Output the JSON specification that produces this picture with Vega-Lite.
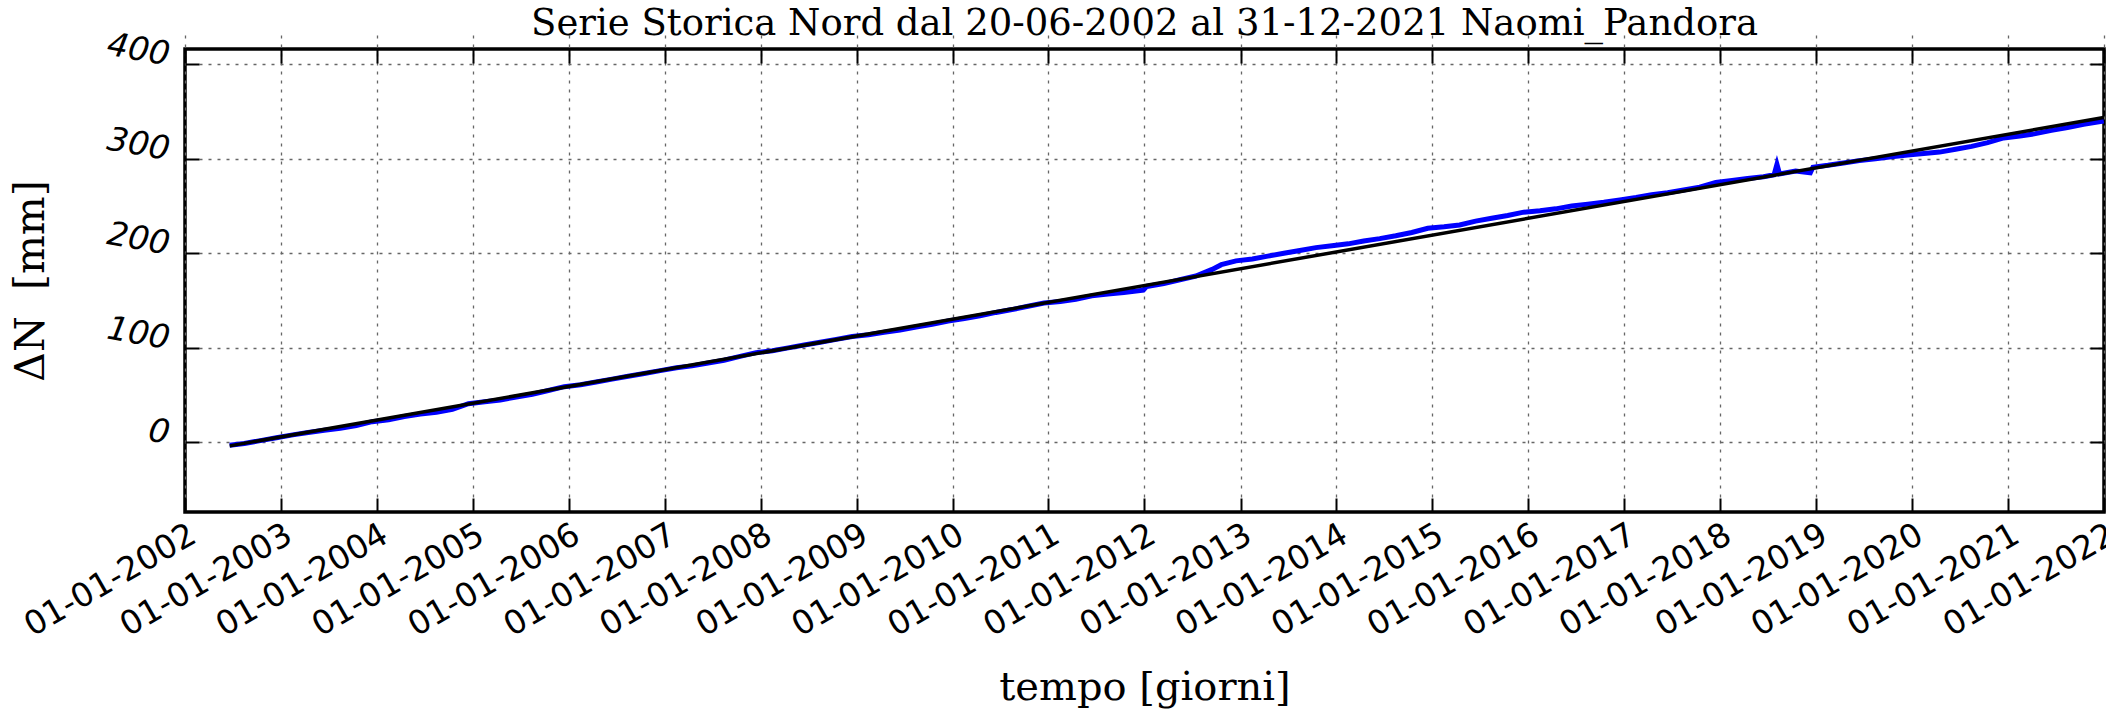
{
  "$schema": "https://vega.github.io/schema/vega-lite/v6.json",
  "autosize": {"type": "none"},
  "width": 1919,
  "height": 463,
  "padding": {"left": 185, "top": 49, "right": 2, "bottom": 199},
  "background": "white",
  "title": {
    "text": "Serie Storica Nord dal 20-06-2002 al 31-12-2021 Naomi_Pandora",
    "font": "DejaVu Serif",
    "fontSize": 37,
    "fontWeight": "normal",
    "color": "black",
    "frame": "group",
    "anchor": "middle",
    "baseline": "bottom",
    "offset": 10,
    "dy": 62
  },
  "config": {
    "view": {"stroke": "black", "strokeWidth": 3.5},
    "axis": {
      "domain": false,
      "gridColor": "#666666",
      "gridDash": [3, 6],
      "gridWidth": 1.3,
      "gridOpacity": 1,
      "tickColor": "black",
      "tickWidth": 2,
      "tickSize": 14,
      "offset": -14,
      "labelColor": "black",
      "titleColor": "black",
      "titleFontWeight": "normal"
    }
  },
  "layer": [
    {
      "data": {
        "values": [
          {"date": "2002-06-20", "dN": -3},
          {"date": "2002-08-15", "dN": -1},
          {"date": "2002-10-15", "dN": 2},
          {"date": "2002-12-15", "dN": 5},
          {"date": "2003-02-15", "dN": 8},
          {"date": "2003-04-15", "dN": 10.5},
          {"date": "2003-06-15", "dN": 13},
          {"date": "2003-08-15", "dN": 15},
          {"date": "2003-10-15", "dN": 18},
          {"date": "2003-12-15", "dN": 22},
          {"date": "2004-02-15", "dN": 24},
          {"date": "2004-04-15", "dN": 27.5},
          {"date": "2004-06-15", "dN": 30},
          {"date": "2004-08-15", "dN": 32},
          {"date": "2004-10-15", "dN": 35},
          {"date": "2004-12-15", "dN": 41},
          {"date": "2005-02-15", "dN": 43},
          {"date": "2005-04-15", "dN": 45},
          {"date": "2005-06-15", "dN": 48},
          {"date": "2005-08-15", "dN": 51},
          {"date": "2005-10-15", "dN": 55},
          {"date": "2005-12-15", "dN": 59},
          {"date": "2006-02-15", "dN": 61},
          {"date": "2006-04-15", "dN": 64},
          {"date": "2006-06-15", "dN": 67},
          {"date": "2006-08-15", "dN": 70},
          {"date": "2006-10-15", "dN": 73},
          {"date": "2006-12-15", "dN": 76},
          {"date": "2007-02-15", "dN": 79},
          {"date": "2007-04-15", "dN": 81},
          {"date": "2007-06-15", "dN": 84},
          {"date": "2007-08-15", "dN": 87},
          {"date": "2007-10-15", "dN": 91},
          {"date": "2007-12-15", "dN": 95},
          {"date": "2008-02-15", "dN": 97},
          {"date": "2008-04-15", "dN": 100},
          {"date": "2008-06-15", "dN": 103},
          {"date": "2008-08-15", "dN": 106},
          {"date": "2008-10-15", "dN": 109},
          {"date": "2008-12-15", "dN": 112},
          {"date": "2009-02-15", "dN": 114},
          {"date": "2009-04-15", "dN": 116.5},
          {"date": "2009-06-15", "dN": 119},
          {"date": "2009-08-15", "dN": 122},
          {"date": "2009-10-15", "dN": 125},
          {"date": "2009-12-15", "dN": 128.5},
          {"date": "2010-02-15", "dN": 131},
          {"date": "2010-04-15", "dN": 134},
          {"date": "2010-06-15", "dN": 137.5},
          {"date": "2010-08-15", "dN": 140.5},
          {"date": "2010-10-15", "dN": 144},
          {"date": "2010-12-15", "dN": 147.5},
          {"date": "2011-02-15", "dN": 149},
          {"date": "2011-04-15", "dN": 151.5},
          {"date": "2011-06-15", "dN": 155},
          {"date": "2011-08-15", "dN": 157},
          {"date": "2011-10-15", "dN": 158.5},
          {"date": "2011-12-28", "dN": 161},
          {"date": "2012-01-10", "dN": 165},
          {"date": "2012-03-15", "dN": 168},
          {"date": "2012-05-15", "dN": 172},
          {"date": "2012-07-15", "dN": 176},
          {"date": "2012-09-15", "dN": 183},
          {"date": "2012-10-20", "dN": 188},
          {"date": "2012-12-15", "dN": 192},
          {"date": "2013-02-15", "dN": 194},
          {"date": "2013-04-15", "dN": 197},
          {"date": "2013-06-15", "dN": 200},
          {"date": "2013-08-15", "dN": 203},
          {"date": "2013-10-15", "dN": 206},
          {"date": "2013-12-15", "dN": 208},
          {"date": "2014-02-15", "dN": 210},
          {"date": "2014-04-15", "dN": 213},
          {"date": "2014-06-15", "dN": 215.5},
          {"date": "2014-08-15", "dN": 218.5},
          {"date": "2014-10-15", "dN": 222},
          {"date": "2014-12-15", "dN": 226.5},
          {"date": "2015-02-15", "dN": 228},
          {"date": "2015-04-15", "dN": 230},
          {"date": "2015-06-15", "dN": 234},
          {"date": "2015-08-15", "dN": 237},
          {"date": "2015-10-15", "dN": 240},
          {"date": "2015-12-15", "dN": 243.5},
          {"date": "2016-02-15", "dN": 245},
          {"date": "2016-04-15", "dN": 247},
          {"date": "2016-06-15", "dN": 250},
          {"date": "2016-08-15", "dN": 252},
          {"date": "2016-10-15", "dN": 254},
          {"date": "2016-12-15", "dN": 256.5},
          {"date": "2017-02-15", "dN": 259},
          {"date": "2017-04-15", "dN": 262},
          {"date": "2017-06-15", "dN": 264},
          {"date": "2017-08-15", "dN": 267},
          {"date": "2017-10-15", "dN": 270},
          {"date": "2017-12-15", "dN": 275},
          {"date": "2018-02-15", "dN": 277},
          {"date": "2018-04-15", "dN": 279},
          {"date": "2018-06-15", "dN": 281},
          {"date": "2018-07-25", "dN": 283},
          {"date": "2018-08-05", "dN": 294},
          {"date": "2018-08-15", "dN": 284},
          {"date": "2018-10-15", "dN": 287},
          {"date": "2018-12-10", "dN": 285},
          {"date": "2018-12-20", "dN": 291},
          {"date": "2019-02-15", "dN": 293},
          {"date": "2019-04-15", "dN": 295.5},
          {"date": "2019-06-15", "dN": 298},
          {"date": "2019-08-15", "dN": 300},
          {"date": "2019-10-15", "dN": 302},
          {"date": "2019-12-15", "dN": 304},
          {"date": "2020-02-15", "dN": 305.5},
          {"date": "2020-04-15", "dN": 307},
          {"date": "2020-06-15", "dN": 310},
          {"date": "2020-08-15", "dN": 313},
          {"date": "2020-10-15", "dN": 317},
          {"date": "2020-12-15", "dN": 322},
          {"date": "2021-02-15", "dN": 324},
          {"date": "2021-04-15", "dN": 326.5},
          {"date": "2021-06-15", "dN": 330},
          {"date": "2021-08-15", "dN": 333},
          {"date": "2021-10-15", "dN": 336.5},
          {"date": "2021-12-31", "dN": 340}
        ]
      },
      "mark": {"type": "line", "color": "#0000ff", "strokeWidth": 5, "clip": true},
      "encoding": {
        "x": {
          "field": "date",
          "type": "temporal",
          "scale": {"domain": ["2002-01-01T00:00:00", "2022-01-01T00:00:00"], "nice": false},
          "axis": {
            "orient": "bottom",
            "title": "tempo [giorni]",
            "titleFont": "DejaVu Serif",
            "titleFontSize": 40,
            "titlePadding": 25,
            "format": "%d-%m-%Y",
            "tickCount": {"interval": "year", "step": 1},
            "labelFont": "DejaVu Sans",
            "labelFontSize": 33,
            "labelAngle": -30,
            "labelAlign": "right",
            "labelBaseline": "top",
            "labelPadding": 6,
            "labelLimit": 0,
            "labelOverlap": false,
            "labelFlush": false,
            "labelBound": false
          }
        },
        "y": {
          "field": "dN",
          "type": "quantitative",
          "scale": {"domain": [-73.5, 416], "nice": false, "zero": false},
          "axis": {
            "orient": "left",
            "title": "ΔN\u00a0 [mm]",
            "titleFont": "DejaVu Serif",
            "titleFontSize": 41,
            "titlePadding": 52,
            "values": [0, 100, 200, 300, 400],
            "labelFont": "DejaVu Sans",
            "labelFontStyle": "italic",
            "labelFontSize": 33,
            "labelAngle": 10,
            "labelAlign": "right",
            "labelBaseline": "middle",
            "labelOffset": -9,
            "labelPadding": 16,
            "labelOverlap": false,
            "labelFlush": false,
            "labelBound": false
          }
        }
      }
    },
    {
      "data": {
        "values": [
          {"date": "2002-06-20", "dN": -3.6},
          {"date": "2021-12-31", "dN": 343.6}
        ]
      },
      "mark": {"type": "line", "color": "black", "strokeWidth": 3.5, "clip": true},
      "encoding": {
        "x": {
          "field": "date",
          "type": "temporal",
          "axis": {
            "orient": "top",
            "title": null,
            "labels": false,
            "grid": false,
            "tickCount": {"interval": "year", "step": 1}
          }
        },
        "y": {
          "field": "dN",
          "type": "quantitative",
          "axis": {
            "orient": "right",
            "title": null,
            "labels": false,
            "grid": false,
            "values": [0, 100, 200, 300, 400]
          }
        }
      }
    }
  ],
  "resolve": {"axis": {"x": "independent", "y": "independent"}}
}
